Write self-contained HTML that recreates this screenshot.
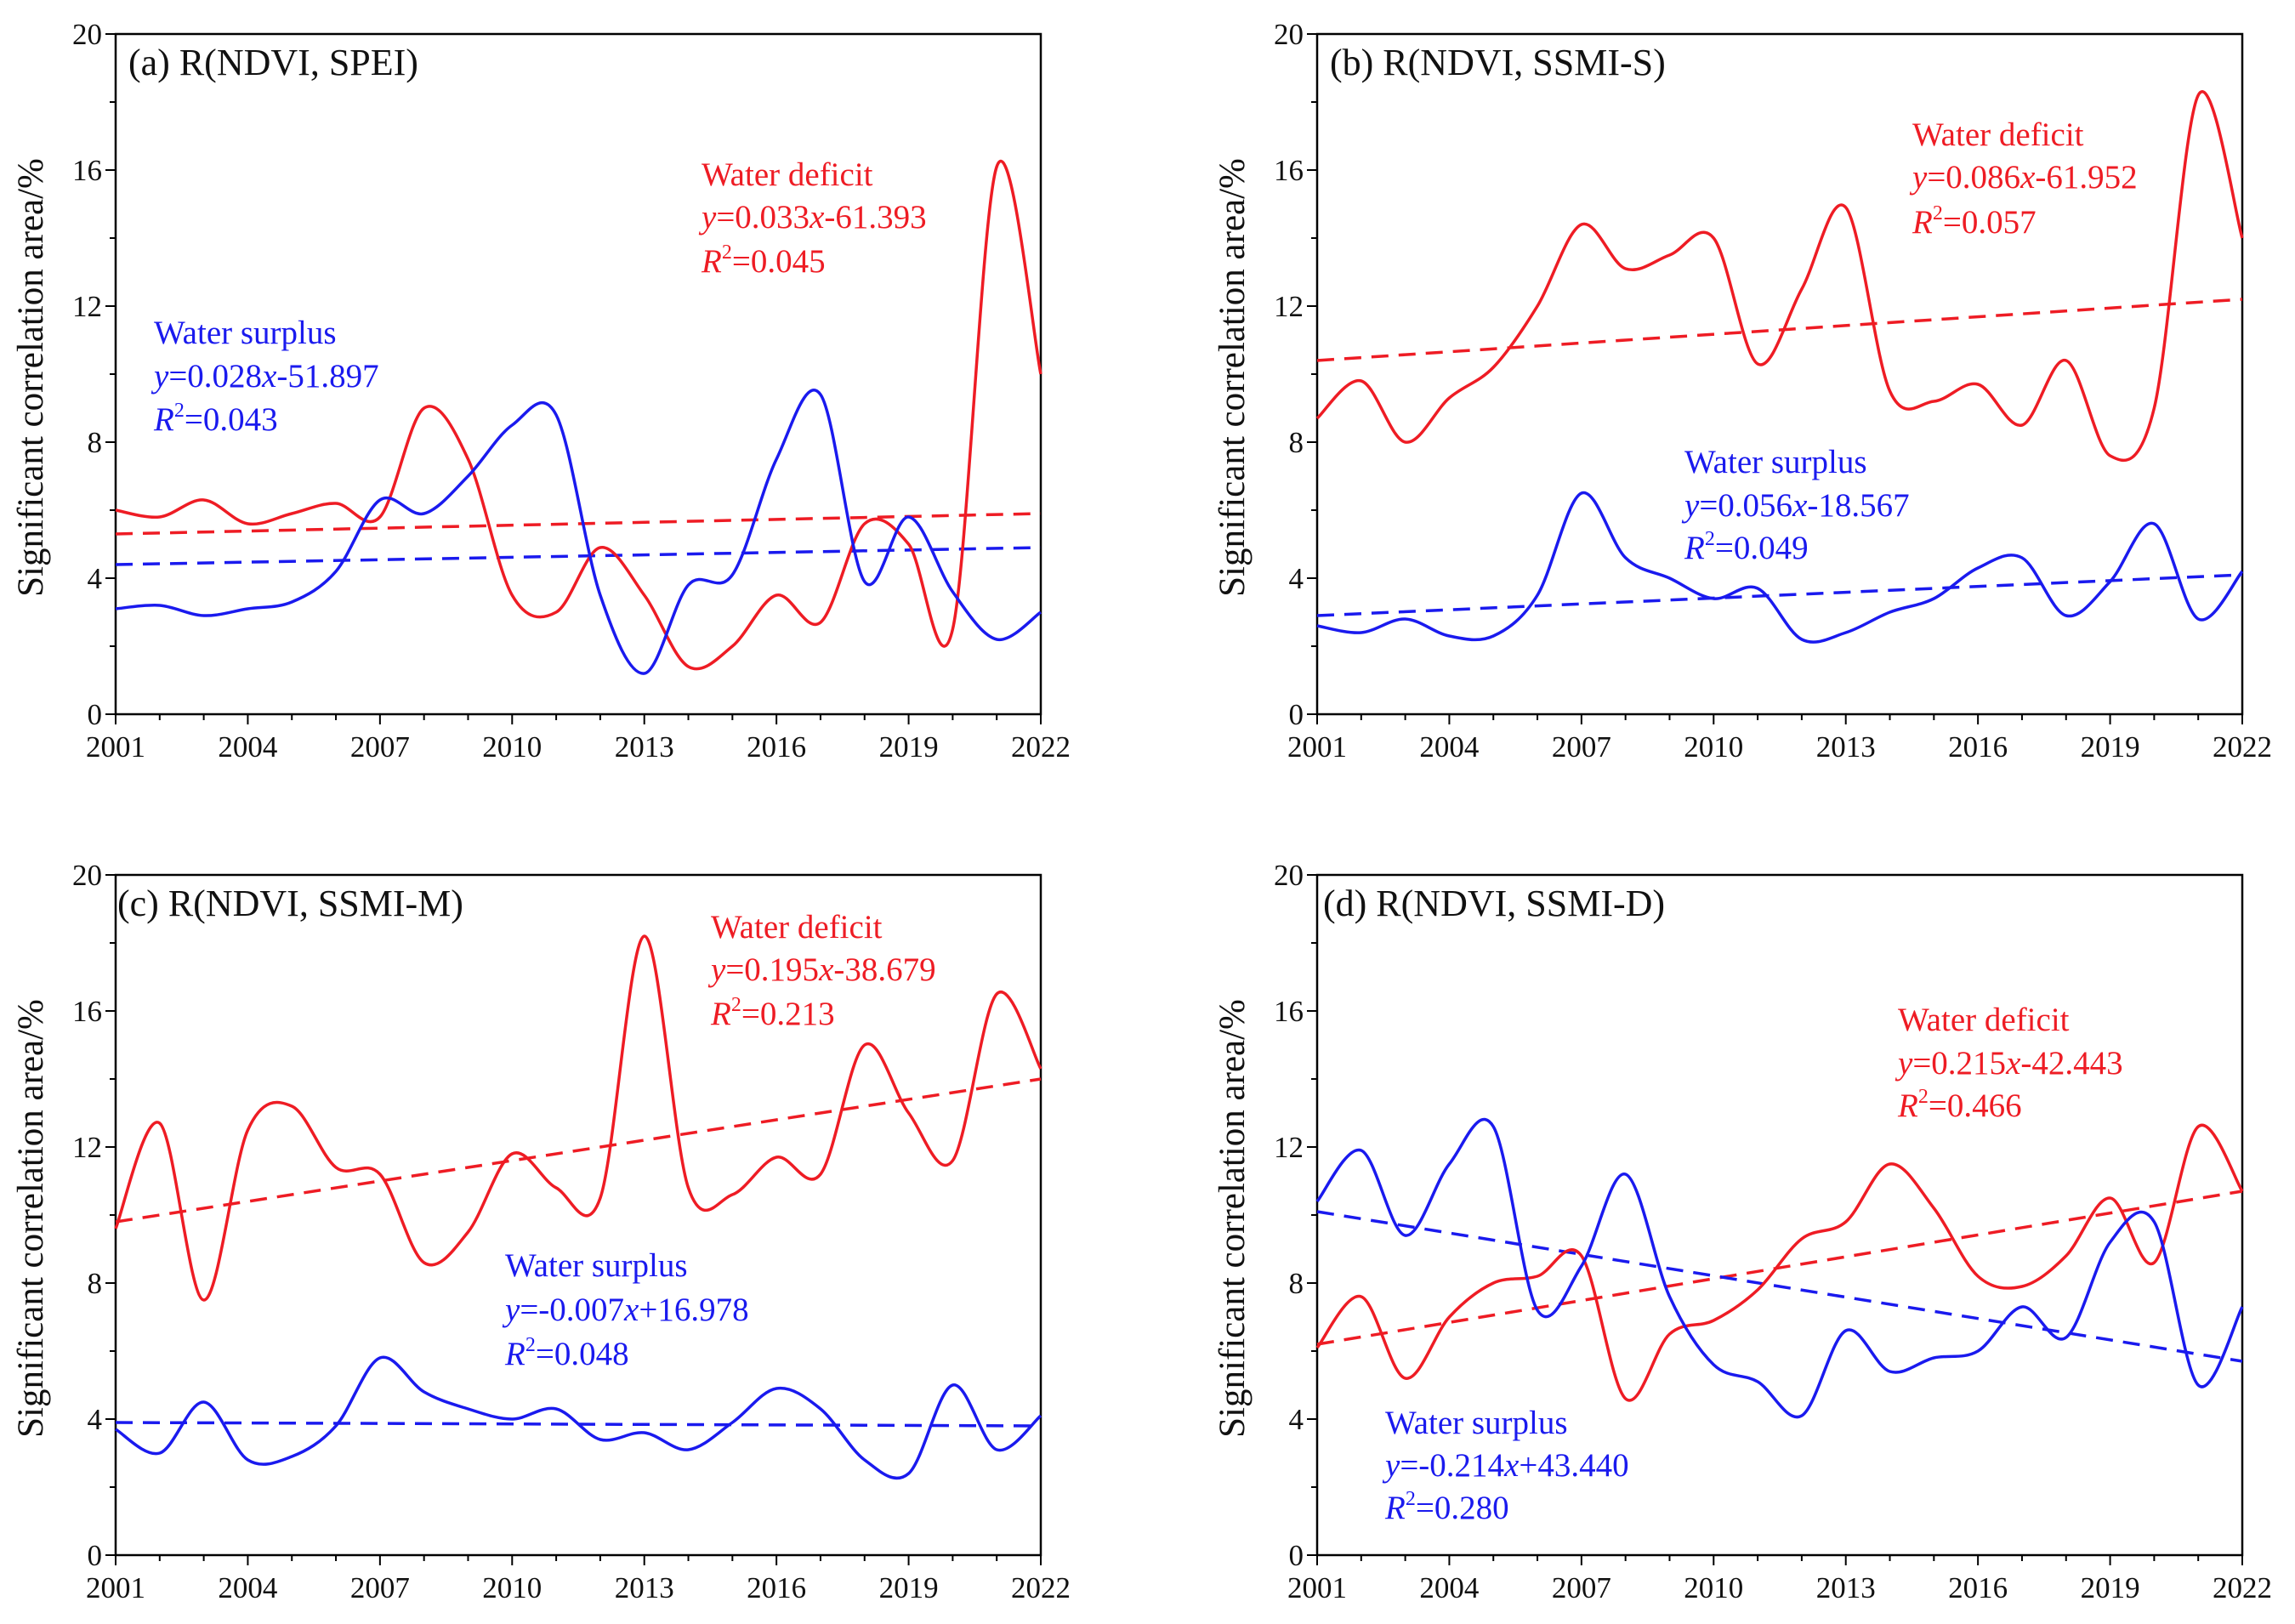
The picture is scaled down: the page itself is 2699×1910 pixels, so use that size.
<!DOCTYPE html>
<html><head><meta charset="utf-8">
<style>
html,body{margin:0;padding:0;background:#fff;}
svg{display:block;font-family:"Liberation Serif","DejaVu Serif",serif;}
</style></head>
<body>
<svg id="fig" width="2699" height="1910" viewBox="0 0 2699 1910" xmlns="http://www.w3.org/2000/svg"></svg>
<script>
const years = [2001,2002,2003,2004,2005,2006,2007,2008,2009,2010,2011,2012,2013,2014,2015,2016,2017,2018,2019,2020,2021,2022];
const xTickLabels = [2001,2004,2007,2010,2013,2016,2019,2022];
const yTickLabels = [0,4,8,12,16,20];

const deficitA = [6.0,5.8,6.3,5.6,5.9,6.2,5.8,9.0,7.5,3.5,3.0,4.9,3.5,1.4,2.0,3.5,2.7,5.6,5.0,2.5,16.1,10.0];
const surplusA = [3.1,3.2,2.9,3.1,3.3,4.2,6.3,5.9,7.0,8.5,8.8,3.5,1.2,3.8,4.1,7.5,9.4,3.9,5.8,3.6,2.2,3.0];
const deficitB = [8.7,9.8,8.0,9.3,10.2,12.0,14.4,13.1,13.5,14.0,10.3,12.5,14.9,9.5,9.2,9.7,8.5,10.4,7.6,9.0,18.2,14.0];
const surplusB = [2.6,2.4,2.8,2.3,2.3,3.5,6.5,4.6,4.0,3.4,3.7,2.2,2.4,3.0,3.4,4.3,4.6,2.9,3.9,5.6,2.8,4.2];
const deficitC = [9.6,12.7,7.5,12.5,13.2,11.4,11.2,8.6,9.5,11.8,10.8,10.5,18.2,10.8,10.6,11.7,11.2,15.0,13.0,11.6,16.5,14.3];
const surplusC = [3.7,3.0,4.5,2.8,2.9,3.8,5.8,4.8,4.3,4.0,4.3,3.4,3.6,3.1,3.9,4.9,4.3,2.8,2.4,5.0,3.1,4.1];
const deficitD = [6.1,7.6,5.2,7.0,8.0,8.2,8.8,4.6,6.5,6.9,7.8,9.3,9.8,11.5,10.2,8.2,7.9,8.8,10.5,8.6,12.6,10.7];
const surplusD = [10.4,11.9,9.4,11.5,12.6,7.2,8.5,11.2,7.6,5.6,5.1,4.1,6.6,5.4,5.8,6.0,7.3,6.4,9.2,9.8,5.0,7.3];

const trendDeficitA = [5.3,5.9], trendSurplusA = [4.4,4.9];
const trendDeficitB = [10.4,12.2], trendSurplusB = [2.9,4.1];
const trendDeficitC = [9.8,14.0], trendSurplusC = [3.9,3.8];
const trendDeficitD = [6.2,10.7], trendSurplusD = [10.1,5.7];

const panelTitles = ["(a) R(NDVI, SPEI)","(b) R(NDVI, SSMI-S)","(c) R(NDVI, SSMI-M)","(d) R(NDVI, SSMI-D)"];
const panels = [
 {id:"a",L:136,T:40,def:deficitA,sur:surplusA,td:trendDeficitA,ts:trendSurplusA,titleX:15,
  dTxt:["y=0.033x-61.393","0.045"],sTxt:["y=0.028x-51.897","0.043"],dPos:[689,[164,214,266]],sPos:[45,[350,401,452]]},
 {id:"b",L:1549,T:40,def:deficitB,sur:surplusB,td:trendDeficitB,ts:trendSurplusB,titleX:15,
  dTxt:["y=0.086x-61.952","0.057"],sTxt:["y=0.056x-18.567","0.049"],dPos:[700,[117,167,220]],sPos:[432,[502,553,603]]},
 {id:"c",L:136,T:1029,def:deficitC,sur:surplusC,td:trendDeficitC,ts:trendSurplusC,titleX:2,
  dTxt:["y=0.195x-38.679","0.213"],sTxt:["y=-0.007x+16.978","0.048"],dPos:[700,[60,110,162]],sPos:[458,[458,510,562]]},
 {id:"d",L:1549,T:1029,def:deficitD,sur:surplusD,td:trendDeficitD,ts:trendSurplusD,titleX:7,
  dTxt:["y=0.215x-42.443","0.466"],sTxt:["y=-0.214x+43.440","0.280"],dPos:[683,[169,220,270]],sPos:[80,[643,693,743]]}
];
const W=1088, H=800, RED="#ee1c24", BLUE="#1a1aee";
const svg=document.getElementById('fig');
const NS="http://www.w3.org/2000/svg";
function mk(tag,attrs,parent){const e=document.createElementNS(NS,tag);for(const k in attrs)e.setAttribute(k,attrs[k]);(parent||svg).appendChild(e);return e;}
function spline(pts){let d=`M${pts[0][0]},${pts[0][1]}`;for(let i=0;i<pts.length-1;i++){const p0=pts[Math.max(0,i-1)],p1=pts[i],p2=pts[i+1],p3=pts[Math.min(pts.length-1,i+2)];
 const c1=[p1[0]+(p2[0]-p0[0])/6,p1[1]+(p2[1]-p0[1])/6],c2=[p2[0]-(p3[0]-p1[0])/6,p2[1]-(p3[1]-p1[1])/6];
 d+=` C${c1[0]},${c1[1]} ${c2[0]},${c2[1]} ${p2[0]},${p2[1]}`;}return d;}

panels.forEach((p,pi)=>{
 const g=mk('g',{});
 
 
 const xs=y=>p.L+(y-2001)/21*W, ys=v=>p.T+H-v/20*H;
 const fr=mk('rect',{x:p.L,y:p.T,width:W,height:H,fill:'none',stroke:'#000','stroke-width':2.5},g);
 
 
 years.forEach(yr=>{const major=xTickLabels.includes(yr);mk('line',{x1:xs(yr),x2:xs(yr),y1:p.T+H,y2:p.T+H+(major?12:7),stroke:'#000','stroke-width':2},g);});
 xTickLabels.forEach(yr=>{const t=mk('text',{x:xs(yr),y:p.T+H+50,'text-anchor':'middle','font-size':35,fill:'#111'},g);t.textContent=yr;
  
  });
 for(let v=0;v<=20;v+=2){const major=v%4===0;mk('line',{x1:p.L,x2:p.L-(major?12:7),y1:ys(v),y2:ys(v),stroke:'#000','stroke-width':2},g);}
 yTickLabels.forEach(v=>{const t=mk('text',{x:p.L-16,y:ys(v)+12,'text-anchor':'end','font-size':35,fill:'#111'},g);t.textContent=v;
  
  });
 const yt=mk('text',{x:0,y:0,transform:`translate(${p.L-86},${p.T+H/2+4}) rotate(-90)`,'text-anchor':'middle','font-size':43,fill:'#111'},g);
 yt.textContent="Significant correlation area/%";
 
 
 const tt=mk('text',{x:p.L+p.titleX,y:p.T+48,'font-size':44,fill:'#111'},g);tt.textContent=panelTitles[pi];
 
 
 const tdl=mk('line',{x1:xs(2001),y1:ys(p.td[0]),x2:xs(2022),y2:ys(p.td[1]),stroke:RED,'stroke-width':3.5,'stroke-dasharray':'20 12'},g);
 
 
 const tsl=mk('line',{x1:xs(2001),y1:ys(p.ts[0]),x2:xs(2022),y2:ys(p.ts[1]),stroke:BLUE,'stroke-width':3.5,'stroke-dasharray':'20 12'},g);
 
 
 const dp=mk('path',{d:spline(years.map((y,i)=>[xs(y),ys(p.def[i])])),fill:'none',stroke:RED,'stroke-width':3.5},g);
 
 
 const sp=mk('path',{d:spline(years.map((y,i)=>[xs(y),ys(p.sur[i])])),fill:'none',stroke:BLUE,'stroke-width':3.5},g);
 
 
 function annot(pos,label,txt,col,name){
  const x=p.L+pos[0];
  const a=mk('text',{x:x,y:p.T+pos[1][0]+14,'font-size':39,fill:col},g);a.textContent=label;
  
  
  const b=mk('text',{x:x,y:p.T+pos[1][1]+14,'font-size':39,fill:col},g);
  
  
  const m=txt[0].match(/^y=(.*)x(.*)$/);
  b.innerHTML=`<tspan font-style="italic">y</tspan>=${m[1]}<tspan font-style="italic">x</tspan>${m[2]}`;
  const c=mk('text',{x:x,y:p.T+pos[1][2]+14,'font-size':39,fill:col},g);
  
  
  c.innerHTML=`<tspan font-style="italic">R</tspan><tspan font-size="24" dy="-16">2</tspan><tspan dy="16">=${txt[1]}</tspan>`;
 }
 annot(p.dPos,"Water deficit",p.dTxt,RED,'deficit');
 annot(p.sPos,"Water surplus",p.sTxt,BLUE,'surplus');
});
</script>
</body></html>
